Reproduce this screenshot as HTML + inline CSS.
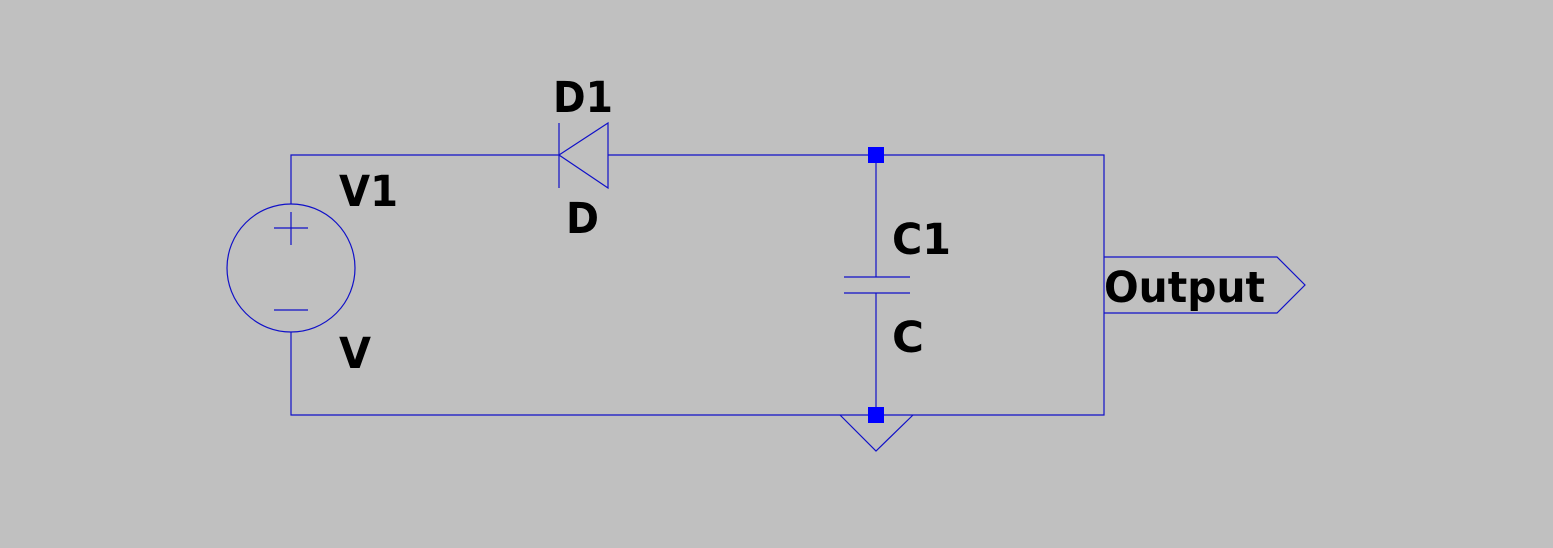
<!DOCTYPE html>
<html><head><meta charset="utf-8"><style>
html,body{margin:0;padding:0;background:#c0c0c0;}
svg{display:block;}
text{font-family:"DejaVu Sans","Liberation Sans",sans-serif;font-weight:bold;font-size:43px;fill:#000;}
</style></head><body>
<svg width="1553" height="548" viewBox="0 0 1553 548">
<rect width="1553" height="548" fill="#c0c0c0"/>
<g stroke="#1010c8" stroke-width="1.2" fill="none">
  <polyline points="291,204 291,155 559,155"/>
  <polyline points="608,155 1104,155 1104,415 291,415 291,332"/>
  <circle cx="291" cy="268" r="64"/>
  <path d="M291 212V245M274 228H308"/>
  <path d="M274 310H308"/>
  <path d="M559 123V188M608 123L559 155L608 188Z"/>
  <path d="M876 155V277M844 277H910M844 293H910M876 293V415"/>
  <path d="M840 415L876 451L913 415"/>
  <path d="M1104 257H1277L1305 285L1277 313H1104"/>
</g>
<rect x="868" y="147" width="16" height="16" fill="#0000ff"/>
<rect x="868" y="407" width="16" height="16" fill="#0000ff"/>
<text x="553" y="112" textLength="60" lengthAdjust="spacingAndGlyphs">D1</text>
<text x="566" y="233" textLength="33" lengthAdjust="spacingAndGlyphs">D</text>
<text x="339" y="206" textLength="59" lengthAdjust="spacingAndGlyphs">V1</text>
<text x="339" y="368" textLength="32" lengthAdjust="spacingAndGlyphs">V</text>
<text x="892" y="254" textLength="59" lengthAdjust="spacingAndGlyphs">C1</text>
<text x="892" y="352" textLength="32" lengthAdjust="spacingAndGlyphs">C</text>
<text x="1104" y="302" textLength="161" lengthAdjust="spacingAndGlyphs">Output</text>
</svg>
</body></html>
